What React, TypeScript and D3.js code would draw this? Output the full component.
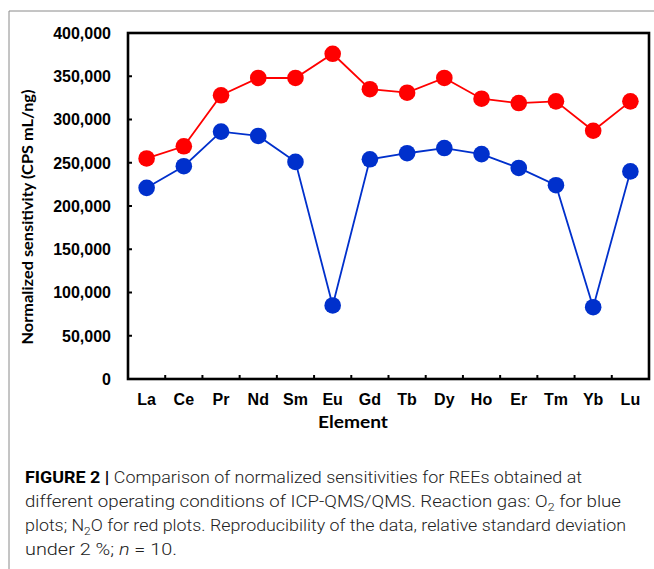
import React from 'react';
import * as d3 from 'd3';

const elements = ['La', 'Ce', 'Pr', 'Nd', 'Sm', 'Eu', 'Gd', 'Tb', 'Dy', 'Ho', 'Er', 'Tm', 'Yb', 'Lu'];
// N2O reaction gas (red)
const n2oValues = [255000, 269000, 328000, 348000, 348000, 376000, 335000, 331000, 348000, 324000, 319000, 321000, 287000, 321000];
// O2 reaction gas (blue)
const o2Values = [221000, 246000, 286000, 281000, 251000, 85000, 254000, 261000, 267000, 260000, 244000, 224000, 83000, 240000];
const yTicks = [0, 50000, 100000, 150000, 200000, 250000, 300000, 350000, 400000];

const W = 654;
const H = 569;
const plot = { left: 128, right: 649, top: 33, bottom: 379 };

export default function App() {
  const x = d3.scaleBand<string>().domain(elements).range([plot.left, plot.right]).padding(0);
  const y = d3.scaleLinear().domain([0, 400000]).range([plot.bottom, plot.top]);
  const fmt = d3.format(',');

  const line = d3
    .line<number>()
    .x((_, i) => x(elements[i])! + x.bandwidth() / 2)
    .y((d) => y(d));

  const series = [
    { values: n2oValues, color: '#ff0000' },
    { values: o2Values, color: '#0030cc' },
  ];

  const tickFont = '"Liberation Sans", Arial, sans-serif';
  const titleFont = 'Lato, "Open Sans", sans-serif';
  const capFont = 'Roboto, "Liberation Sans", sans-serif';

  return (
    <svg width={W} height={H} style={{ position: 'absolute', left: 0, top: 0, background: '#fff' }}>
      {/* figure frame */}
      <line x1={9} x2={W} y1={11} y2={11} stroke="#8a8a8a" strokeWidth={1} />
      <line x1={9} x2={9} y1={11} y2={H} stroke="#8a8a8a" strokeWidth={1} />

      {/* y ticks */}
      {yTicks.map((t) => (
        <g key={t}>
          <line x1={plot.left} x2={plot.left + 4} y1={y(t)} y2={y(t)} stroke="#000" strokeWidth={2} />
          <text
            x={111}
            y={y(t)}
            dy="0.36em"
            textAnchor="end"
            fontFamily={tickFont}
            fontWeight="bold"
            fontSize={16}
          >
            {fmt(t)}
          </text>
        </g>
      ))}

      {/* x ticks at category boundaries */}
      {elements.slice(1).map((e) => (
        <line key={e} x1={x(e)} x2={x(e)} y1={plot.bottom} y2={plot.bottom - 4} stroke="#000" strokeWidth={2} />
      ))}
      {elements.map((e) => (
        <text
          key={e}
          x={x(e)! + x.bandwidth() / 2}
          y={405}
          textAnchor="middle"
          fontFamily={tickFont}
          fontWeight="bold"
          fontSize={16}
        >
          {e}
        </text>
      ))}

      {/* plot frame */}
      <rect
        x={plot.left}
        y={plot.top}
        width={plot.right - plot.left}
        height={plot.bottom - plot.top}
        fill="none"
        stroke="#000"
        strokeWidth={2.6}
      />

      {series.map((s, si) => (
        <g key={si}>
          <path d={line(s.values) || ''} fill="none" stroke={s.color} strokeWidth={1.8} />
          {s.values.map((v, i) => (
            <circle key={i} cx={x(elements[i])! + x.bandwidth() / 2} cy={y(v)} r={8.3} fill={s.color} />
          ))}
        </g>
      ))}

      {/* axis titles */}
      <text
        transform="translate(33,217) rotate(-90)"
        textAnchor="middle"
        fontFamily={titleFont}
        fontWeight="bold"
        fontSize={16}
        textLength={255}
        lengthAdjust="spacingAndGlyphs"
      >
        Normalized sensitivity (CPS mL/ng)
      </text>
      <text
        x={353}
        y={428}
        textAnchor="middle"
        fontFamily={titleFont}
        fontWeight="bold"
        fontSize={17}
        textLength={70}
        lengthAdjust="spacingAndGlyphs"
      >
        Element
      </text>

      {/* caption */}
      <g fontFamily={capFont} fontSize={16.5} fontWeight={300} fill="#222">
        <text x={25} y={483} textLength={557} lengthAdjust="spacingAndGlyphs">
          <tspan fontWeight="bold" fill="#000">FIGURE 2 | </tspan>
          Comparison of normalized sensitivities for REEs obtained at
        </text>
        <text x={25} y={507} textLength={596} lengthAdjust="spacingAndGlyphs">
          different operating conditions of ICP-QMS/QMS. Reaction gas: O
          <tspan fontSize={11} dy={4}>2</tspan>
          <tspan dy={-4}> for blue</tspan>
        </text>
        <text x={25} y={531} textLength={601} lengthAdjust="spacingAndGlyphs">
          plots; N<tspan fontSize={11} dy={4}>2</tspan>
          <tspan dy={-4}>O for red plots. Reproducibility of the data, relative standard deviation</tspan>
        </text>
        <text x={25} y={555} textLength={152} lengthAdjust="spacingAndGlyphs">
          under 2 %; <tspan fontStyle="italic">n</tspan> = 10.
        </text>
      </g>
    </svg>
  );
}
